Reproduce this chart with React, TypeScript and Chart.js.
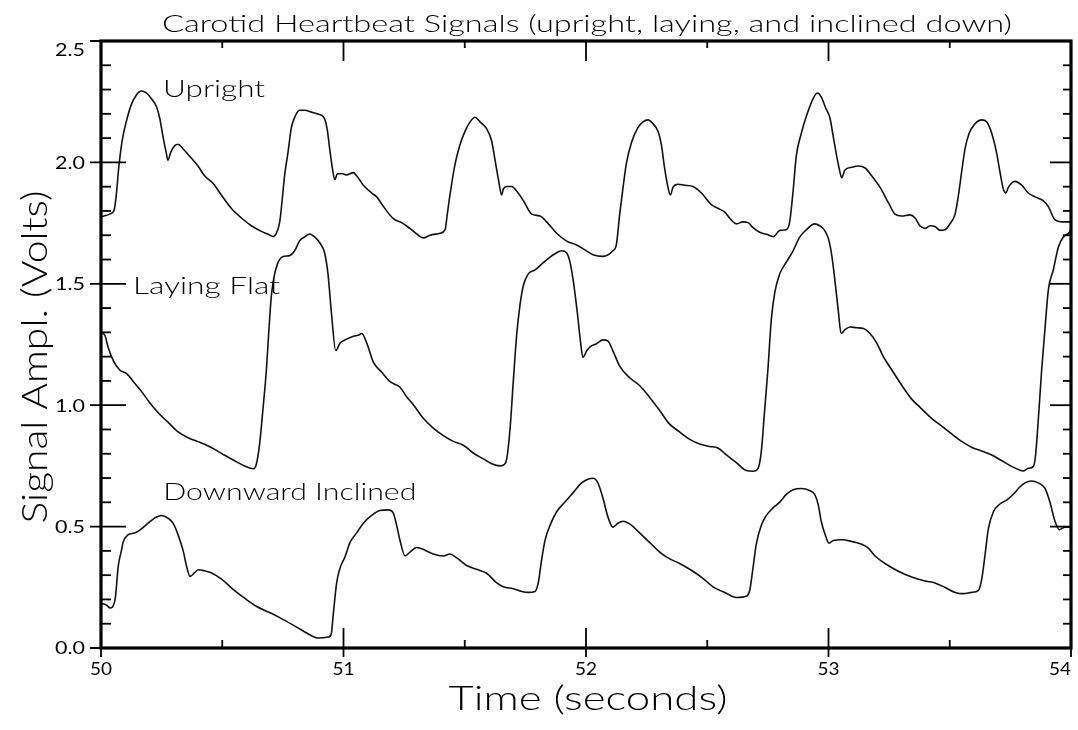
import { useEffect, useRef } from 'react';
import { Chart, registerables } from 'chart.js';

Chart.register(...registerables);

// ---- Signal samples (time in seconds, amplitude in volts) ----
const T_UPRIGHT = [
  50.000, 50.036, 50.054, 50.063, 50.073, 50.087, 50.104, 50.125, 50.146, 50.166,
  50.187, 50.208, 50.228, 50.242, 50.256, 50.269, 50.276, 50.287, 50.304, 50.318,
  50.338, 50.366, 50.400, 50.427, 50.462, 50.496, 50.537, 50.579, 50.620, 50.661,
  50.689, 50.709, 50.723, 50.737, 50.746, 50.757, 50.771, 50.785, 50.801, 50.819,
  50.840, 50.867, 50.895, 50.920, 50.933, 50.943, 50.954, 50.964, 50.975, 50.998,
  51.013, 51.041, 51.054, 51.082, 51.116, 51.137, 51.164, 51.206, 51.240, 51.274,
  51.309, 51.329, 51.357, 51.398, 51.419, 51.428, 51.439, 51.460, 51.480, 51.501,
  51.522, 51.542, 51.563, 51.590, 51.611, 51.625, 51.639, 51.652, 51.659, 51.673,
  51.694, 51.714, 51.742, 51.776, 51.810, 51.845, 51.879, 51.920, 51.961, 51.990,
  52.029, 52.070, 52.111, 52.125, 52.139, 52.153, 52.166, 52.187, 52.214, 52.235,
  52.256, 52.276, 52.297, 52.311, 52.324, 52.338, 52.348, 52.359, 52.379, 52.407,
  52.441, 52.476, 52.517, 52.544, 52.572, 52.599, 52.620, 52.647, 52.668, 52.689,
  52.716, 52.744, 52.774, 52.799, 52.826, 52.840, 52.854, 52.867, 52.888, 52.909,
  52.936, 52.954, 52.970, 52.988, 53.006, 53.020, 53.034, 53.047, 53.054, 53.068,
  53.096, 53.123, 53.151, 53.178, 53.212, 53.247, 53.274, 53.302, 53.336, 53.357,
  53.377, 53.398, 53.419, 53.439, 53.460, 53.481, 53.501, 53.522, 53.536, 53.549,
  53.563, 53.580, 53.604, 53.632, 53.652, 53.673, 53.693, 53.707, 53.721, 53.731,
  53.742, 53.769, 53.797, 53.824, 53.852, 53.886, 53.906, 53.934, 53.961, 54.000,
];
const V_UPRIGHT = [
  1.775, 1.787, 1.803, 1.866, 1.977, 2.088, 2.167, 2.238, 2.278, 2.294,
  2.286, 2.262, 2.231, 2.183, 2.104, 2.040, 2.009, 2.040, 2.069, 2.075,
  2.056, 2.025, 1.985, 1.945, 1.914, 1.866, 1.811, 1.771, 1.739, 1.716,
  1.704, 1.695, 1.708, 1.755, 1.834, 1.945, 2.040, 2.143, 2.191, 2.215,
  2.215, 2.207, 2.199, 2.183, 2.135, 2.056, 1.977, 1.929, 1.953, 1.953,
  1.948, 1.958, 1.945, 1.906, 1.874, 1.858, 1.819, 1.768, 1.752, 1.728,
  1.700, 1.689, 1.700, 1.708, 1.723, 1.787, 1.866, 1.993, 2.072, 2.128,
  2.167, 2.186, 2.167, 2.139, 2.088, 2.009, 1.929, 1.866, 1.890, 1.901,
  1.901, 1.882, 1.842, 1.787, 1.779, 1.747, 1.708, 1.676, 1.660, 1.643,
  1.620, 1.613, 1.636, 1.660, 1.787, 1.898, 1.993, 2.080, 2.143, 2.167,
  2.175, 2.159, 2.128, 2.072, 1.977, 1.898, 1.866, 1.898, 1.910, 1.906,
  1.901, 1.874, 1.826, 1.811, 1.795, 1.763, 1.747, 1.755, 1.752, 1.731,
  1.712, 1.704, 1.695, 1.720, 1.723, 1.755, 1.882, 2.025, 2.120, 2.191,
  2.262, 2.286, 2.270, 2.225, 2.183, 2.104, 2.025, 1.961, 1.937, 1.969,
  1.980, 1.985, 1.977, 1.945, 1.898, 1.834, 1.787, 1.779, 1.784, 1.771,
  1.739, 1.728, 1.739, 1.736, 1.720, 1.723, 1.747, 1.787, 1.866, 1.961,
  2.056, 2.120, 2.159, 2.175, 2.167, 2.120, 2.040, 1.961, 1.890, 1.874,
  1.898, 1.922, 1.906, 1.874, 1.858, 1.842, 1.819, 1.763, 1.755, 1.755,
];

const T_LAYING = [
  50.000, 50.016, 50.029, 50.050, 50.077, 50.106, 50.139, 50.166, 50.201, 50.235,
  50.276, 50.318, 50.359, 50.400, 50.427, 50.469, 50.510, 50.551, 50.592, 50.627,
  50.640, 50.654, 50.668, 50.682, 50.691, 50.702, 50.713, 50.727, 50.751, 50.778,
  50.799, 50.819, 50.840, 50.860, 50.881, 50.902, 50.922, 50.936, 50.950, 50.968,
  50.986, 51.013, 51.041, 51.061, 51.075, 51.096, 51.123, 51.157, 51.192, 51.233,
  51.261, 51.288, 51.329, 51.370, 51.412, 51.453, 51.494, 51.535, 51.577, 51.611,
  51.645, 51.662, 51.673, 51.687, 51.700, 51.714, 51.728, 51.742, 51.762, 51.790,
  51.817, 51.845, 51.872, 51.900, 51.920, 51.934, 51.948, 51.964, 51.978, 51.987,
  52.003, 52.017, 52.043, 52.070, 52.091, 52.111, 52.139, 52.180, 52.221, 52.262,
  52.304, 52.345, 52.386, 52.428, 52.469, 52.510, 52.544, 52.579, 52.620, 52.661,
  52.689, 52.709, 52.723, 52.737, 52.750, 52.764, 52.778, 52.799, 52.826, 52.854,
  52.881, 52.909, 52.943, 52.964, 52.984, 53.000, 53.013, 53.027, 53.041, 53.052,
  53.068, 53.089, 53.116, 53.144, 53.171, 53.199, 53.226, 53.261, 53.302, 53.343,
  53.384, 53.425, 53.467, 53.508, 53.549, 53.590, 53.632, 53.673, 53.714, 53.755,
  53.783, 53.803, 53.824, 53.845, 53.854, 53.865, 53.879, 53.893, 53.907, 53.927,
  53.948, 53.968, 53.989, 54.000,
];
const V_LAYING = [
  1.300, 1.288, 1.240, 1.185, 1.145, 1.130, 1.090, 1.058, 1.010, 0.970,
  0.930, 0.890, 0.866, 0.850, 0.839, 0.818, 0.794, 0.771, 0.750, 0.738,
  0.755, 0.840, 0.985, 1.145, 1.288, 1.445, 1.525, 1.580, 1.612, 1.616,
  1.637, 1.677, 1.693, 1.705, 1.693, 1.669, 1.628, 1.541, 1.383, 1.225,
  1.256, 1.272, 1.284, 1.288, 1.295, 1.256, 1.177, 1.137, 1.097, 1.074,
  1.034, 1.002, 0.946, 0.906, 0.875, 0.851, 0.835, 0.803, 0.779, 0.759,
  0.750, 0.755, 0.778, 0.905, 1.096, 1.288, 1.414, 1.494, 1.541, 1.557,
  1.581, 1.605, 1.624, 1.636, 1.628, 1.589, 1.509, 1.383, 1.256, 1.197,
  1.224, 1.240, 1.253, 1.269, 1.264, 1.224, 1.161, 1.113, 1.081, 1.033,
  0.978, 0.922, 0.890, 0.859, 0.840, 0.830, 0.824, 0.795, 0.763, 0.731,
  0.728, 0.739, 0.810, 0.984, 1.145, 1.351, 1.462, 1.541, 1.589, 1.636,
  1.692, 1.723, 1.747, 1.739, 1.720, 1.685, 1.620, 1.509, 1.383, 1.295,
  1.311, 1.322, 1.319, 1.316, 1.295, 1.256, 1.200, 1.145, 1.082, 1.025,
  0.985, 0.946, 0.914, 0.882, 0.851, 0.827, 0.811, 0.795, 0.772, 0.748,
  0.735, 0.729, 0.740, 0.748, 0.795, 0.938, 1.145, 1.319, 1.478, 1.557,
  1.652, 1.692, 1.708, 1.720,
];

const T_DOWNWARD = [
  50.000, 50.015, 50.025, 50.037, 50.058, 50.071, 50.085, 50.091, 50.111, 50.139,
  50.166, 50.194, 50.221, 50.249, 50.276, 50.297, 50.318, 50.339, 50.352, 50.367,
  50.386, 50.401, 50.427, 50.449, 50.496, 50.546, 50.592, 50.642, 50.702, 50.752,
  50.812, 50.848, 50.896, 50.938, 50.950, 50.957, 50.972, 50.986, 51.006, 51.027,
  51.054, 51.082, 51.116, 51.150, 51.185, 51.206, 51.219, 51.233, 51.254, 51.274,
  51.302, 51.336, 51.370, 51.412, 51.439, 51.467, 51.508, 51.549, 51.590, 51.632,
  51.659, 51.700, 51.735, 51.762, 51.790, 51.803, 51.817, 51.831, 51.852, 51.879,
  51.913, 51.948, 51.982, 52.010, 52.029, 52.049, 52.070, 52.091, 52.111, 52.132,
  52.153, 52.187, 52.221, 52.262, 52.304, 52.338, 52.386, 52.441, 52.482, 52.524,
  52.572, 52.620, 52.661, 52.675, 52.689, 52.702, 52.723, 52.744, 52.771, 52.799,
  52.826, 52.854, 52.888, 52.922, 52.943, 52.957, 52.970, 52.984, 53.002, 53.020,
  53.054, 53.096, 53.137, 53.164, 53.192, 53.233, 53.288, 53.343, 53.398, 53.439,
  53.481, 53.522, 53.556, 53.590, 53.618, 53.632, 53.645, 53.659, 53.680, 53.707,
  53.735, 53.762, 53.790, 53.810, 53.838, 53.865, 53.893, 53.913, 53.934, 53.952,
  53.975, 54.000,
];
const V_DOWNWARD = [
  0.185, 0.180, 0.175, 0.165, 0.199, 0.336, 0.405, 0.435, 0.466, 0.474,
  0.490, 0.514, 0.535, 0.546, 0.535, 0.514, 0.466, 0.400, 0.340, 0.295,
  0.310, 0.322, 0.318, 0.312, 0.285, 0.240, 0.205, 0.171, 0.143, 0.117,
  0.083, 0.062, 0.041, 0.045, 0.060, 0.130, 0.270, 0.330, 0.375, 0.435,
  0.474, 0.514, 0.546, 0.566, 0.569, 0.554, 0.506, 0.443, 0.379, 0.395,
  0.414, 0.403, 0.387, 0.379, 0.387, 0.371, 0.340, 0.324, 0.308, 0.268,
  0.252, 0.244, 0.233, 0.229, 0.233, 0.268, 0.363, 0.443, 0.506, 0.561,
  0.601, 0.641, 0.680, 0.696, 0.699, 0.680, 0.617, 0.538, 0.498, 0.514,
  0.522, 0.506, 0.474, 0.435, 0.395, 0.371, 0.348, 0.316, 0.287, 0.252,
  0.229, 0.208, 0.213, 0.237, 0.332, 0.427, 0.506, 0.546, 0.577, 0.601,
  0.633, 0.652, 0.657, 0.649, 0.633, 0.593, 0.522, 0.474, 0.432, 0.443,
  0.446, 0.439, 0.427, 0.411, 0.379, 0.348, 0.316, 0.292, 0.276, 0.268,
  0.249, 0.229, 0.224, 0.229, 0.237, 0.284, 0.379, 0.490, 0.561, 0.593,
  0.609, 0.633, 0.664, 0.680, 0.688, 0.680, 0.657, 0.601, 0.522, 0.487,
  0.498, 0.498,
];

// ---- Axes and text ----
const X_MIN = 50;
const X_MAX = 54;
const Y_MIN = 0;
const Y_MAX = 2.5;
const X_TICK_LABELS = [50, 51, 52, 53, 54];
const Y_TICK_LABELS = [0, 0.5, 1.0, 1.5, 2.0, 2.5];
const X_MINOR_STEP = 0.5;
const Y_MINOR_STEP = 0.1;

const TITLE = 'Carotid Heartbeat Signals (upright, laying, and inclined down)';
const X_TITLE = 'Time (seconds)';
const Y_TITLE = 'Signal Ampl. (Volts)';

// Curve names, anchored at (time, volts) of the text's left baseline
const SERIES_NAMES = ['Upright', 'Laying Flat', 'Downward Inclined'];
const NAME_ANCHOR_T = [50.256, 50.132, 50.257];
const NAME_ANCHOR_V = [2.268, 1.459, 0.611];
const NAME_WIDTHS = [102, 147, 253];

const FONT = 'Lato, "DejaVu Sans", sans-serif';
const INK = '#000';

function toPoints(ts: number[], vs: number[]) {
  return ts.map((t, i) => ({ x: t, y: vs[i] }));
}

// Draw text stretched horizontally to a given width
function fitText(
  ctx: CanvasRenderingContext2D,
  text: string,
  x: number,
  y: number,
  width: number,
  align: 'left' | 'center' | 'right'
) {
  const w0 = ctx.measureText(text).width;
  const sx = w0 > 0 ? width / w0 : 1;
  const start = align === 'center' ? x - width / 2 : align === 'right' ? x - width : x;
  ctx.save();
  ctx.translate(start, y);
  ctx.scale(sx, 1);
  ctx.textAlign = 'left';
  ctx.fillText(text, 0, 0);
  ctx.restore();
}

const framePlugin = {
  id: 'plotFrame',
  afterDatasetsDraw(chart: any) {
    const { ctx, chartArea: a, scales } = chart;
    const xs = scales.x;
    const ys = scales.y;
    ctx.save();
    ctx.strokeStyle = INK;
    ctx.fillStyle = INK;
    ctx.lineCap = 'butt';

    const seg = (x1: number, y1: number, x2: number, y2: number) => {
      ctx.beginPath();
      ctx.moveTo(x1, y1);
      ctx.lineTo(x2, y2);
      ctx.stroke();
    };

    // tick marks
    ctx.lineWidth = 1.8;
    const nY = Math.round((Y_MAX - Y_MIN) / Y_MINOR_STEP);
    for (let i = 0; i <= nY; i++) {
      const v = Y_MIN + i * Y_MINOR_STEP;
      const py = ys.getPixelForValue(v);
      const major = i % 5 === 0;
      seg(a.left - (major ? 11 : 0), py, a.left + (major ? 25 : 10), py);
      seg(a.right - (major ? 21 : 8), py, a.right, py);
    }
    const nX = Math.round((X_MAX - X_MIN) / X_MINOR_STEP);
    for (let i = 0; i <= nX; i++) {
      const t = X_MIN + i * X_MINOR_STEP;
      const px = xs.getPixelForValue(t);
      const major = i % 2 === 0;
      seg(px, a.bottom + (major ? 9 : 0), px, a.bottom - (major ? 20 : 8));
      seg(px, a.top, px, a.top + (major ? 20 : 7));
    }

    // frame
    ctx.lineWidth = 3.2;
    ctx.strokeRect(a.left, a.top, a.right - a.left, a.bottom - a.top);

    // tick labels
    ctx.font = `17px ${FONT}`;
    ctx.textBaseline = 'middle';
    Y_TICK_LABELS.forEach((v) => {
      let py = ys.getPixelForValue(v);
      if (v === Y_MAX) py += 9;
      fitText(ctx, v.toFixed(1), a.left - 16, py + 1, 30, 'right');
    });
    X_TICK_LABELS.forEach((t) => {
      const px = xs.getPixelForValue(t);
      fitText(ctx, String(t), px, 670, 22, t === X_MAX ? 'right' : 'center');
    });

    // title
    ctx.textBaseline = 'alphabetic';
    ctx.font = `300 24px ${FONT}`;
    fitText(ctx, TITLE, (a.left + a.right) / 2 + 1, 32, 850, 'center');

    // axis titles
    ctx.font = `300 33px ${FONT}`;
    fitText(ctx, X_TITLE, (a.left + a.right) / 2 + 2, 710, 279, 'center');

    ctx.save();
    ctx.translate(46.5, 357);
    ctx.rotate(-Math.PI / 2);
    ctx.font = `300 36px ${FONT}`;
    fitText(ctx, Y_TITLE, 0, 0, 333, 'center');
    ctx.restore();

    // series names
    ctx.font = `300 23px ${FONT}`;
    SERIES_NAMES.forEach((name, i) => {
      const px = xs.getPixelForValue(NAME_ANCHOR_T[i]);
      const py = ys.getPixelForValue(NAME_ANCHOR_V[i]);
      fitText(ctx, name, px, py, NAME_WIDTHS[i], 'left');
    });

    ctx.restore();
  },
};

export default function App() {
  const canvasRef = useRef<HTMLCanvasElement | null>(null);

  useEffect(() => {
    document.body.style.margin = '0';
    document.body.style.background = '#fff';
    const canvas = canvasRef.current;
    if (!canvas) return;

    const lineStyle = {
      borderColor: '#111',
      borderWidth: 1.6,
      pointRadius: 0,
      cubicInterpolationMode: 'monotone' as const,
      fill: false,
    };

    const chart = new Chart(canvas, {
      type: 'line',
      data: {
        datasets: [
          { label: SERIES_NAMES[0], data: toPoints(T_UPRIGHT, V_UPRIGHT), ...lineStyle },
          { label: SERIES_NAMES[1], data: toPoints(T_LAYING, V_LAYING), ...lineStyle },
          { label: SERIES_NAMES[2], data: toPoints(T_DOWNWARD, V_DOWNWARD), ...lineStyle },
        ],
      },
      options: {
        responsive: false,
        animation: false,
        devicePixelRatio: 1,
        layout: { padding: { left: 0, right: 7, top: 41, bottom: 0 } },
        plugins: {
          legend: { display: false },
          tooltip: { enabled: false },
          title: { display: false },
        },
        scales: {
          x: {
            type: 'linear',
            min: X_MIN,
            max: X_MAX,
            ticks: { display: false, stepSize: 1 },
            grid: { display: false, drawTicks: false },
            border: { display: false },
            afterFit: (s: any) => {
              s.height = 82;
              s.paddingLeft = 0;
              s.paddingRight = 0;
            },
          },
          y: {
            type: 'linear',
            min: Y_MIN,
            max: Y_MAX,
            ticks: { display: false, stepSize: 0.5 },
            grid: { display: false, drawTicks: false },
            border: { display: false },
            afterFit: (s: any) => {
              s.width = 101;
              s.paddingTop = 0;
              s.paddingBottom = 0;
            },
          },
        },
      },
      plugins: [framePlugin],
    });

    return () => chart.destroy();
  }, []);

  return (
    <div style={{ position: 'absolute', left: 0, top: 0, width: 1078, height: 730, background: '#fff' }}>
      <canvas ref={canvasRef} width={1078} height={730} />
    </div>
  );
}
